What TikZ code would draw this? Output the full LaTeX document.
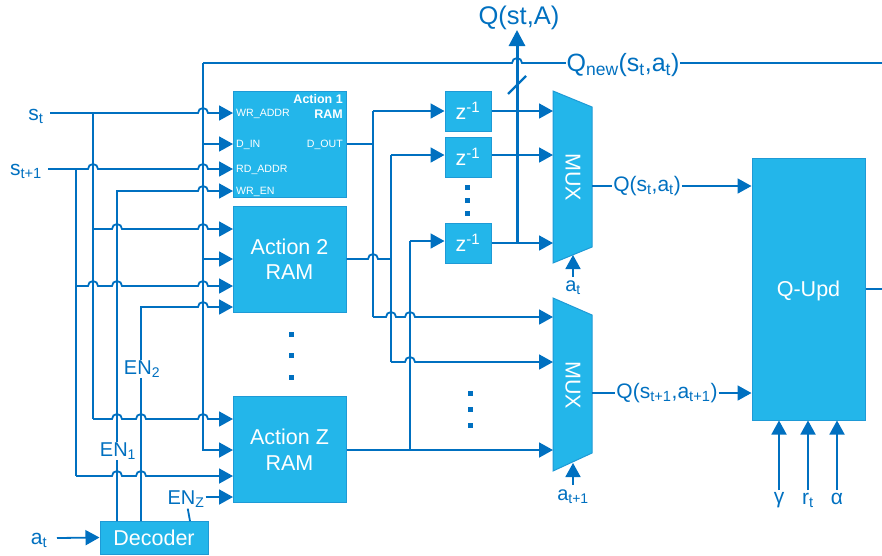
\documentclass[tikz,border=0pt]{standalone}
\usepackage{fontspec}
\setmainfont{Liberation Sans}
\usetikzlibrary{arrows.meta}
\definecolor{wirecol}{HTML}{0070C0}
\definecolor{boxcol}{HTML}{23B6EA}
\definecolor{edgecol}{HTML}{1E9AD6}
\newcommand{\fsz}[1]{\fontsize{#1}{#1}\selectfont}
\newcommand{\sbt}[1]{\textsubscript{#1}}
\newcommand{\hop}[2]{-- (#1-5,#2) arc[start angle=180,end angle=360,radius=5]}
\tikzset{
  wire/.style={draw=wirecol,line width=1.8pt},
  line/.style={wire,-{Triangle[length=14pt,width=15pt]}},
  bigline/.style={wire,line width=3pt,-{Triangle[length=16pt,width=16pt]}},
  box/.style={rectangle,draw=edgecol,fill=boxcol,line width=1pt,inner sep=0pt,text=white,align=center,font=\fsz{21.5}},
  ram/.style={box,minimum width=113pt,minimum height=106pt},
  delay/.style={box,minimum width=46pt,minimum height=40pt},
  mux/.style={draw=edgecol,fill=boxcol,line width=1pt},
  muxtext/.style={text=white,rotate=-90,inner sep=0pt,font=\fsz{21.5}},
  lbl/.style={text=wirecol,inner sep=1pt,font=\fsz{21}},
  enlbl/.style={lbl,fill=white,font=\fsz{20}},
  port/.style={text=white,inner sep=0pt,font=\fsz{10.6}},
  dot/.style={rectangle,fill=wirecol,inner sep=0pt,minimum size=5pt}
}
\begin{document}
\begin{tikzpicture}[x=1pt,y=-1pt]
\useasboundingbox (0,0) rectangle (882,555);
% blocks
\node[ram] (ram1) at (289.5,144) {};
\node[ram] (ram2) at (289.5,259) {Action 2\\[3.5pt]RAM};
\node[ram] (ramz) at (289.5,449.5) {Action Z\\[4pt]RAM};
\node[box,minimum width=108pt,minimum height=33pt] (dec) at (154,537.5) {Decoder};
\node[delay] (z1) at (468,111) {z\textsuperscript{-1}};
\node[delay] (z2) at (468,157) {z\textsuperscript{-1}};
\node[delay] (z3) at (468,243) {z\textsuperscript{-1}};
\node[box,text depth=0pt,minimum width=113pt,minimum height=262pt] (upd) at (808.5,289) {Q-Upd};
\draw[mux] (553,91) -- (592,107) -- (592,247) -- (553,263) -- cycle;
\draw[mux] (553,298) -- (592,315) -- (592,453) -- (553,471) -- cycle;
\node[muxtext] (mux1) at (573,177) {MUX};
\node[muxtext] (mux2) at (573,385) {MUX};
% ports on the RAM blocks
\node[port,anchor=west] (p1) at (236,114) {WR\_ADDR};
\node[port,anchor=west] (p2) at (236,145) {D\_IN};
\node[port,anchor=west] (p3) at (236,170) {RD\_ADDR};
\node[port,anchor=west] (p4) at (236,192) {WR\_EN};
\node[port,anchor=east] (p5) at (343,145) {D\_OUT};
\node[port,anchor=north east,align=right,font=\bfseries\fsz{12.5}] (title1) at (343,94) {Action 1\\[3pt]RAM};
\coordinate (r1a) at (233,113);
\coordinate (r1b) at (233,144);
\coordinate (r1c) at (233,169);
\coordinate (r1d) at (233,191);
\coordinate (r2a) at (233,229);
\coordinate (r2b) at (233,259);
\coordinate (r2c) at (233,286);
\coordinate (r2d) at (233,307);
\coordinate (rza) at (233,419);
\coordinate (rzb) at (233,450);
\coordinate (rzc) at (233,476);
\coordinate (rzd) at (233,497);
% buses and free ends
\coordinate (sa) at (50,113);
\coordinate (sb) at (48,169);
\coordinate (bs) at (93,113);
\coordinate (bn) at (76,169);
\coordinate (bq) at (203,63);
\coordinate (en1) at (117,521);
\coordinate (en2) at (141,521);
\coordinate (en3) at (190,521);
\coordinate (atw) at (57,538);
\coordinate (m1w) at (553,177);
\coordinate (m2a) at (553,317);
\coordinate (m2b) at (553,362);
\coordinate (m2c) at (553,450);
\coordinate (b1) at (373,144);
\coordinate (b1t) at (373,111);
\coordinate (b1e) at (373,317);
\coordinate (b2) at (391,259);
\coordinate (b2t) at (391,155);
\coordinate (b2e) at (391,362);
\coordinate (b3) at (410,450);
\coordinate (b3t) at (410,241);
\coordinate (qbus) at (517,243);
\coordinate (qtop) at (517,30);
\coordinate (qend) at (882,63);
\coordinate (outend) at (882,289);
\coordinate (s1a) at (573,277);
\coordinate (s1b) at (573,255);
\coordinate (s2a) at (573,485);
\coordinate (s2b) at (573,463);
\coordinate (m1e) at (592,186);
\coordinate (m2e) at (592,393);
\coordinate (gi) at (779,490);
\coordinate (ri) at (808,490);
\coordinate (ai) at (837,490);
\coordinate (sl1) at (508,94);
\coordinate (sl2) at (526,76);
% labels
\node[lbl] (lst) at (36,116) {s\sbt{t}};
\node[lbl] (lsn) at (26,171) {s\sbt{t+1}};
\node[lbl] (lat) at (39,540) {a\sbt{t}};
\node[enlbl] (enz) at (186,499) {EN\sbt{Z}};
\node[lbl] (qa) at (647,186) {Q(s\sbt{t},a\sbt{t})};
\node[lbl] (qb) at (667,393) {Q(s\sbt{t+1},a\sbt{t+1})};
\node[lbl,font=\fsz{25.5}] (qall) at (519,18) {Q(st,A)};
\node[lbl,font=\fsz{20}] (a1) at (573,288) {a\sbt{t}};
\node[lbl,font=\fsz{20}] (a2) at (573,497) {a\sbt{t+1}};
\node[lbl] (lg) at (779,500) {γ};
\node[lbl] (lr) at (808,500) {r\sbt{t}};
\node[lbl] (la) at (837,499) {α};
% inputs of the RAM blocks
\draw[line] (sa) \hop{203}{113} -- (r1a);
\draw[line] (sb) \hop{93}{169} \hop{203}{169} -- (r1c);
\draw[wire] (bs) -- (bs |- rza);
\draw[wire] (bn) -- (bn |- rzc);
\draw[wire] (qend) -- (522,63) arc[start angle=360,end angle=180,radius=5] -- (bq);
\draw[line] (bq) -- (bq |- rzb) -- (rzb);
\draw[line] (bq |- r1b) -- (r1b);
\draw[line] (bq |- r2b) -- (r2b);
\draw[line] (en1) -- (en1 |- r1d) \hop{203}{191} -- (r1d);
\draw[line] (en2) -- (en2 |- r2d) \hop{203}{307} -- (r2d);
\draw[line] (bs |- r2a) \hop{117}{229} \hop{203}{229} -- (r2a);
\draw[line] (bn |- r2c) \hop{93}{286} \hop{117}{286} \hop{203}{286} -- (r2c);
\draw[line] (bs |- rza) \hop{117}{419} \hop{141}{419} \hop{203}{419} -- (rza);
\draw[line] (bn |- rzc) \hop{117}{476} \hop{141}{476} -- (rzc);
\draw[line] (atw) -- (dec.west);
\draw[wire] (en3) -- (enz);
\draw[line] (enz.east |- rzd) -- (rzd);
% outputs of the RAM blocks
\draw[wire] (b1 -| ram1.east) -- (b1);
\draw[line] (b1t) -- (z1.west);
\draw[wire] (b1t) -- (b1e);
\draw[line] (b1e) \hop{391}{317} \hop{410}{317} -- (m2a);
\draw[wire] (ram2.east) \hop{373}{259} -- (b2);
\draw[line] (b2t) -- ([yshift=2pt]z2.west);
\draw[wire] (b2t) -- (b2e);
\draw[line] (b2e) \hop{410}{362} -- (m2b);
\draw[wire] (b3 -| ramz.east) -- (b3);
\draw[line] (b3) -- (m2c);
\draw[wire] (b3) -- (b3t);
\draw[line] (b3t) -- ([yshift=2pt]z3.west);
% delayed values
\draw[line] (z1.east) -- (z1.east -| m1w);
\draw[line] ([yshift=2pt]z2.east) -- ([yshift=2pt]z2.east -| m1w);
\draw[line] (z3.east) -- (z3.east -| m1w);
\draw[bigline] (qbus) -- (qtop);
\draw[wire,line width=2.2pt] (sl1) -- (sl2);
% multiplexer outputs and selects
\draw[wire] (m1e) -- (qa);
\draw[line] (qa) -- (qa -| upd.west);
\draw[wire] (m2e) -- (qb);
\draw[line] (qb) -- (qb -| upd.west);
\draw[line] (s1a) -- (s1b);
\draw[line] (s2a) -- (s2b);
\draw[wire] (upd.east) -- (outend);
\draw[line] (gi) -- (gi |- upd.south);
\draw[line] (ri) -- (ri |- upd.south);
\draw[line] (ai) -- (ai |- upd.south);
% labels on top of wires
\node[enlbl] (len1) at (118,451) {EN\sbt{1}};
\node[enlbl] (len2) at (142,369) {EN\sbt{2}};
\node[lbl,fill=white,font=\fsz{25}] (qnew) at (623,65) {Q\sbt{new}(s\sbt{t},a\sbt{t})};
% dots
\node[dot] (d1) at (291,334) {};
\node[dot] (d2) at (291,355) {};
\node[dot] (d3) at (291,377) {};
\node[dot] (d4) at (467,187) {};
\node[dot] (d5) at (467,200) {};
\node[dot] (d6) at (467,213) {};
\node[dot] (d7) at (470,393) {};
\node[dot] (d8) at (470,409) {};
\node[dot] (d9) at (470,425) {};
\end{tikzpicture}
\end{document}
